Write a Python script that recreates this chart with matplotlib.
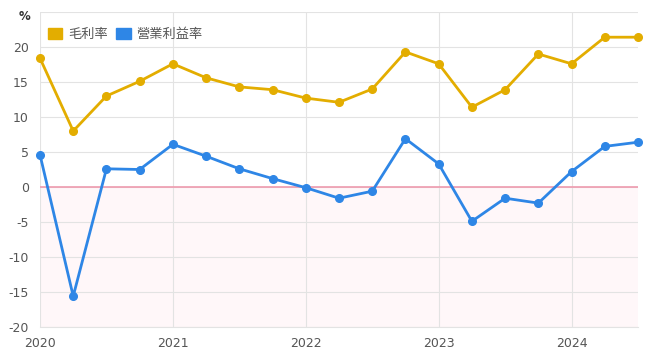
import matplotlib
matplotlib.use("Agg")
import matplotlib.pyplot as plt
import numpy as np
from matplotlib.patches import Patch

plt.rcParams['font.family'] = ['DejaVu Sans', 'Noto Sans CJK TC']
plt.rcParams['axes.unicode_minus'] = False

quarters = [2020.0, 2020.25, 2020.5, 2020.75, 2021.0, 2021.25, 2021.5, 2021.75,
            2022.0, 2022.25, 2022.5, 2022.75, 2023.0, 2023.25, 2023.5, 2023.75,
            2024.0, 2024.25, 2024.5]
gross_margin = [18.4, 8.0, 13.0, 15.1, 17.6, 15.6, 14.3, 13.9, 12.7, 12.1, 14.0,
                19.3, 17.6, 11.4, 13.9, 19.0, 17.6, 21.4, 21.4]
op_margin = [4.6, -15.6, 2.6, 2.5, 6.1, 4.4, 2.6, 1.2, -0.1, -1.6, -0.6, 6.9,
             3.3, -4.9, -1.6, -2.3, 2.2, 5.8, 6.4]
year_ticks = [2020, 2021, 2022, 2023, 2024]
y_ticks = [-20, -15, -10, -5, 0, 5, 10, 15, 20]
series_names = ['毛利率', '營業利益率']

gold = '#E3AD00'
blue = '#2E86E6'
txt = '#555555'

fig = plt.figure(figsize=(6.69, 3.63), dpi=100)
ax = fig.add_axes([40/669, 1-327/363, (638-40)/669, (327-12)/363])

ax.set_xlim(2020.0, 2024.5)
ax.set_ylim(-20, 25)
ax.axhspan(-20, 0, color='#FFF7F9', zorder=0, lw=0)
ax.set_yticks(y_ticks)
ax.set_yticklabels([str(v) for v in y_ticks])
ax.set_xticks(year_ticks)
ax.set_xticklabels([str(y) for y in year_ticks])
ax.grid(True, color='#E3E3E3', lw=0.8, zorder=1)
ax.axhline(25, color='#E3E3E3', lw=0.8, zorder=1)
ax.axhline(0, color='#EE9AAE', lw=1.2, zorder=2)

for s in ax.spines.values():
    s.set_visible(False)
ax.spines['bottom'].set_visible(True)
ax.spines['bottom'].set_color('#E3E3E3')

ax.tick_params(axis='both', length=0, colors=txt, labelsize=9)
ax.tick_params(axis='y', pad=8)
ax.tick_params(axis='x', pad=7)

ax.plot(quarters, gross_margin, color=gold, lw=2, marker='o', ms=5.5, zorder=4,
        clip_on=False, label=series_names[0])
ax.plot(quarters, op_margin, color=blue, lw=2, marker='o', ms=5.5, zorder=4,
        clip_on=False, label=series_names[1])

fig.text(19/669, 1-17/363, '%', color='#333333', fontsize=8.5, fontweight='bold',
         ha='left', va='center')

handles = [Patch(color=gold), Patch(color=blue)]
leg = ax.legend(handles, series_names, loc='upper left', bbox_to_anchor=(0.0, 0.975),
                frameon=False, ncol=2, handlelength=1.1, handleheight=0.9,
                handletextpad=0.45, columnspacing=0.6, borderaxespad=0.2,
                prop={'family': ['Noto Sans CJK TC'], 'size': 9.5})
for t in leg.get_texts():
    t.set_color(txt)

fig.savefig('out.png', dpi=100)
